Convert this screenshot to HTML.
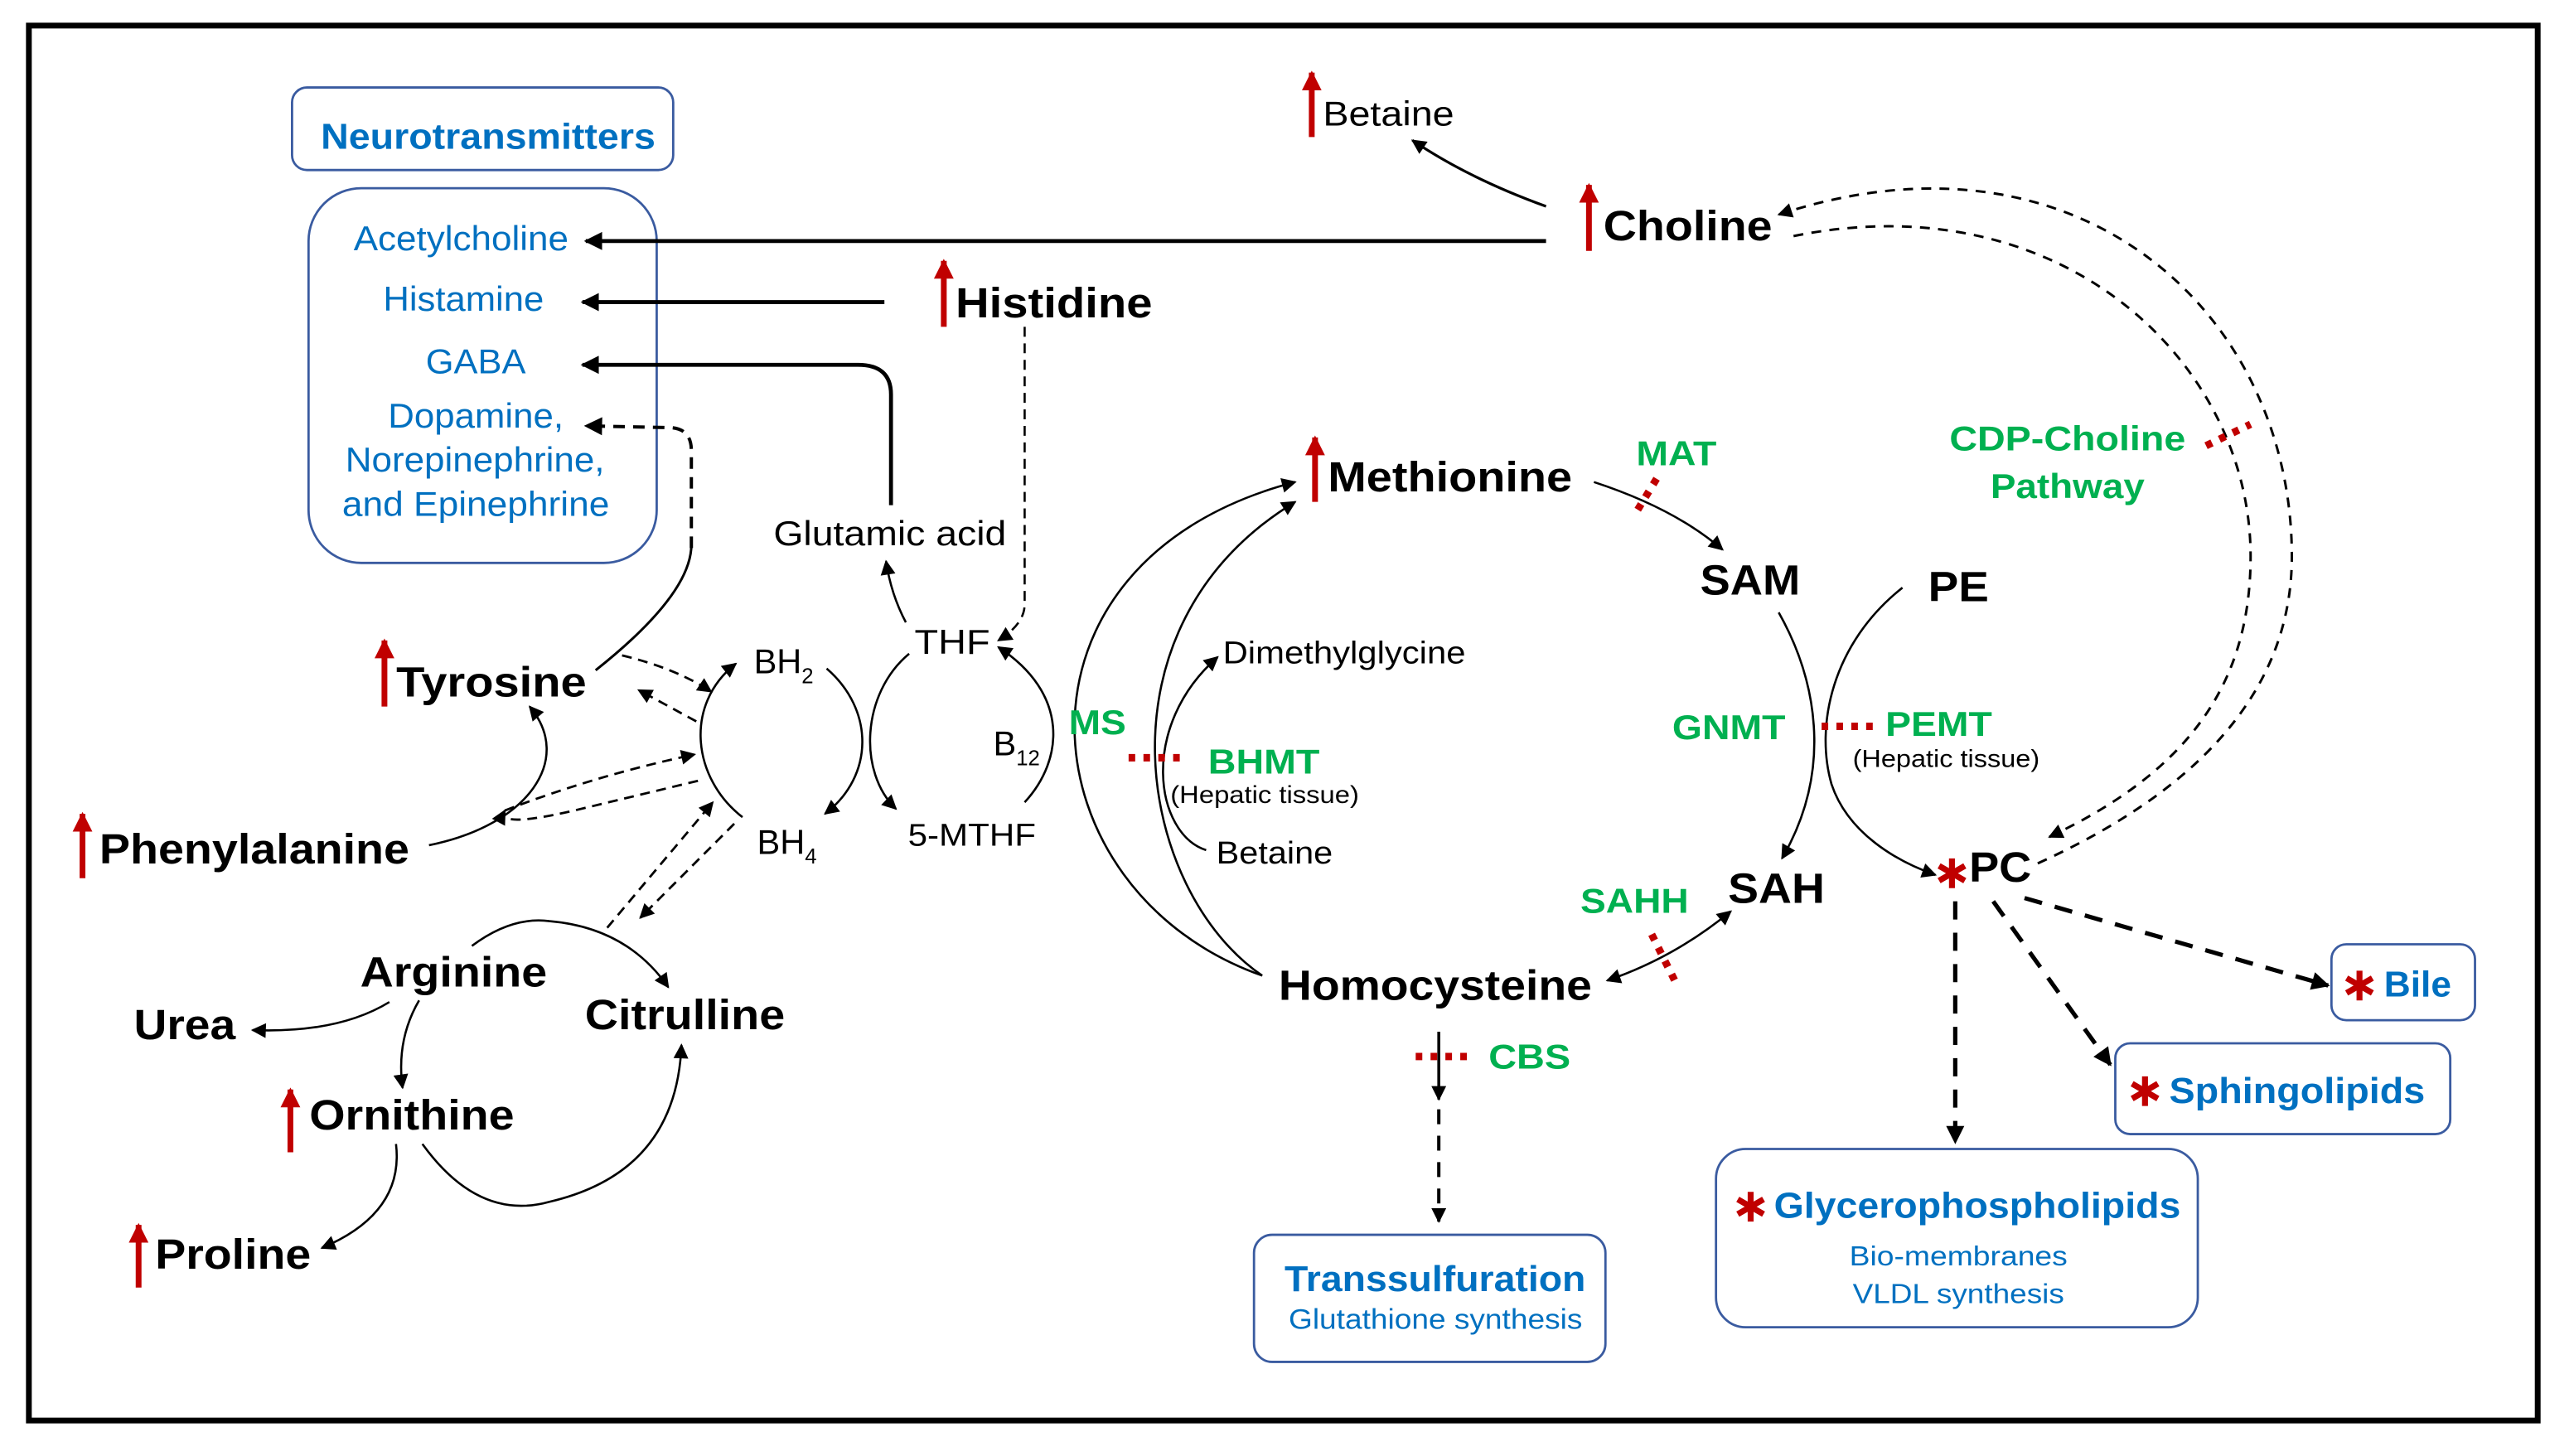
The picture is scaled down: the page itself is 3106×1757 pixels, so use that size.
<!DOCTYPE html>
<html><head><meta charset="utf-8"><style>
html,body{margin:0;padding:0;background:#fff;}
svg{display:block;}
text{font-family:"Liberation Sans",Arial,sans-serif;}
.b{font-weight:bold;fill:#000;}
.bl{fill:#0070c0;}
.g{fill:#00b050;font-weight:bold;}
.k{fill:#000;}
</style></head><body>
<svg width="3106" height="1757" viewBox="0 0 1560 882" preserveAspectRatio="none" xmlns="http://www.w3.org/2000/svg">
<defs>
<marker id="a" viewBox="0 0 10 10" refX="9" refY="5" markerWidth="12" markerHeight="11" markerUnits="userSpaceOnUse" orient="auto-start-reverse"><path d="M0,0L10,5L0,10z" fill="#000"/></marker>
<marker id="s" viewBox="0 0 10 10" refX="9" refY="5" markerWidth="10" markerHeight="9" markerUnits="userSpaceOnUse" orient="auto-start-reverse"><path d="M0,0L10,5L0,10z" fill="#000"/></marker>
<marker id="r" viewBox="0 0 10 10" refX="5" refY="1" markerWidth="12" markerHeight="12" markerUnits="userSpaceOnUse" orient="0"><path d="M0,10L5,0L10,10z" fill="#c00000"/></marker>
<g id="ast"><path d="M0,-9L0,9M-7.8,-4.5L7.8,4.5M-7.8,4.5L7.8,-4.5" stroke="#c00000" stroke-width="3.6" stroke-linecap="butt"/></g>
</defs>
<rect x="0" y="0" width="1560" height="882" fill="#fff"/>
<rect x="17.5" y="15.5" width="1520.5" height="845" fill="none" stroke="#000" stroke-width="3.5"/>

<g fill="none" stroke="#3a5ba0" stroke-width="1.4">
<rect x="177" y="53" width="231" height="50" rx="9"/>
<rect x="187" y="114" width="211" height="227" rx="32"/>
<rect x="760" y="748" width="213" height="77" rx="11"/>
<rect x="1040" y="696" width="292" height="108" rx="18"/>
<rect x="1282" y="632" width="203" height="55" rx="9"/>
<rect x="1413" y="572" width="87" height="46" rx="9"/>
</g>

<g fill="none" stroke="#000" stroke-width="2.4">
<path d="M937,146 L355,146" marker-end="url(#a)"/>
<path d="M536,183 L353,183" marker-end="url(#a)"/>
<path d="M540,306 L540,239 Q540,221 520,221 L353,221" marker-end="url(#a)"/>
</g>
<path d="M419,332 L419,273 Q419,259 405,259 L355,258" fill="none" stroke="#000" stroke-width="2" stroke-dasharray="7,5" marker-end="url(#a)"/>
<path d="M361,406 Q419,360 419,330" fill="none" stroke="#000" stroke-width="1.5"/>
<path d="M621,198 L621,366 Q621,378 605,388" fill="none" stroke="#000" stroke-width="1.3" stroke-dasharray="6,4" marker-end="url(#s)"/>
<path d="M937,125 Q890,108 856,85" fill="none" stroke="#000" stroke-width="1.6" marker-end="url(#s)"/>
<g fill="none" stroke="#000" stroke-width="1.5" stroke-dasharray="6,5">
<path d="M1087,143 C1250,110 1364,220 1364,337 C1364,420 1320,470 1242,507" marker-end="url(#s)"/>
<path d="M1235,523 C1330,480 1389,420 1389,337 C1389,190 1260,70 1078,130" marker-end="url(#s)"/>
</g>
<g fill="none" stroke="#000" stroke-width="1.3">
<path d="M549,377 Q540,360 537,340" marker-end="url(#s)"/>
<path d="M450,495 C420,472 414,427 446,402" marker-end="url(#s)"/>
<path d="M501,405 C530,430 530,470 500,493" marker-end="url(#s)"/>
<path d="M551,396 C522,420 520,468 543,490" marker-end="url(#s)"/>
<path d="M621,486 C645,460 648,420 605,392" marker-end="url(#s)"/>
<path d="M765,591 C620,540 600,340 785,292" marker-end="url(#s)"/>
<path d="M765,591 C690,540 660,380 785,304" marker-end="url(#s)"/>
<path d="M731,515 C700,505 690,440 738,398" marker-end="url(#s)"/>
<path d="M966,292 Q1015,308 1044,333" marker-end="url(#s)"/>
<path d="M1078,371 C1100,410 1112,465 1080,520" marker-end="url(#s)"/>
<path d="M1153,356 C1110,390 1100,440 1110,475 C1120,505 1150,522 1173,530" marker-end="url(#s)"/>
<path d="M974,594 Q1015,580 1049,552" marker-start="url(#s)" marker-end="url(#s)"/>
<path d="M260,512 C320,500 348,460 321,428" marker-end="url(#s)"/>
<path d="M286,573 Q310,555 333,558 Q380,562 405,598" marker-end="url(#s)"/>
<path d="M256,693 Q290,740 333,728 Q410,710 413,633" marker-end="url(#s)"/>
<path d="M254,606 Q240,630 244,659" marker-end="url(#s)"/>
<path d="M236,607 Q205,626 153,624" marker-end="url(#s)"/>
<path d="M240,693 Q245,735 195,756" marker-end="url(#s)"/>
</g>
<g fill="none" stroke="#000" stroke-width="1.4" stroke-dasharray="6,4">
<path d="M377,397 Q410,405 431,419" marker-end="url(#s)"/>
<path d="M422,437 Q400,425 387,418" marker-end="url(#s)"/>
<path d="M306,491 Q360,470 421,457" marker-end="url(#s)"/>
<path d="M423,473 L348,491 Q300,502 306,491" marker-end="url(#s)"/>
<path d="M368,562 L432,486" marker-end="url(#s)"/>
<path d="M445,499 L388,556" marker-end="url(#s)"/>
</g>
<path d="M872,625 L872,666" stroke="#000" stroke-width="1.8" marker-end="url(#s)"/>
<path d="M872,672 L872,740" stroke="#000" stroke-width="2" stroke-dasharray="9,7" marker-end="url(#s)"/>
<g fill="none" stroke="#000" stroke-width="2.6" stroke-dasharray="11,8">
<path d="M1185,546 L1185,692" marker-end="url(#a)"/>
<path d="M1208,546 L1279,645" marker-end="url(#a)"/>
<path d="M1227,544 L1411,597" marker-end="url(#a)"/>
</g>
<g stroke="#c00000" stroke-width="4.5" stroke-dasharray="4,5" fill="none">
<path d="M684,459 L716,459"/>
<path d="M1104,440 L1136,440"/>
<path d="M858,640 L890,640"/>
<path d="M1004,290 L990,313"/>
<path d="M1001,566 L1015,594"/>
<path d="M1337,270 L1364,257"/>
</g>
<g stroke="#c00000" stroke-width="3.5">
<path d="M795,44 L795,83" marker-start="url(#r)"/>
<path d="M963,112 L963,152" marker-start="url(#r)"/>
<path d="M572,158 L572,198" marker-start="url(#r)"/>
<path d="M797,265 L797,304" marker-start="url(#r)"/>
<path d="M233,388 L233,428" marker-start="url(#r)"/>
<path d="M50,493 L50,532" marker-start="url(#r)"/>
<path d="M176,660 L176,698" marker-start="url(#r)"/>
<path d="M84,742 L84,780" marker-start="url(#r)"/>
</g>

<use href="#ast" x="1183" y="529"/>
<use href="#ast" x="1430" y="597"/>
<use href="#ast" x="1300" y="661"/>
<use href="#ast" x="1061" y="731"/>

<g transform="translate(0.6,0.6) scale(0.994,0.9935)">
<text x="195" y="90" font-size="22" class="bl" font-weight="bold" textLength="204" lengthAdjust="spacingAndGlyphs">Neurotransmitters</text>
<g class="bl" font-size="21">
<text x="215" y="152" textLength="131" lengthAdjust="spacingAndGlyphs">Acetylcholine</text>
<text x="233" y="189" textLength="98" lengthAdjust="spacingAndGlyphs">Histamine</text>
<text x="259" y="227" textLength="61" lengthAdjust="spacingAndGlyphs">GABA</text>
<text x="236" y="260" textLength="107" lengthAdjust="spacingAndGlyphs">Dopamine,</text>
<text x="210" y="287" textLength="158" lengthAdjust="spacingAndGlyphs">Norepinephrine,</text>
<text x="208" y="314" textLength="163" lengthAdjust="spacingAndGlyphs">and Epinephrine</text>
</g>
<g font-size="26" class="b">
<text x="977" y="146" textLength="103" lengthAdjust="spacingAndGlyphs">Choline</text>
<text x="582" y="193" textLength="120" lengthAdjust="spacingAndGlyphs">Histidine</text>
<text x="809" y="299" textLength="149" lengthAdjust="spacingAndGlyphs">Methionine</text>
<text x="1036" y="362" textLength="61" lengthAdjust="spacingAndGlyphs">SAM</text>
<text x="1175" y="366" textLength="37" lengthAdjust="spacingAndGlyphs">PE</text>
<text x="241" y="424" textLength="116" lengthAdjust="spacingAndGlyphs">Tyrosine</text>
<text x="60" y="526" textLength="189" lengthAdjust="spacingAndGlyphs">Phenylalanine</text>
<text x="1053" y="550" textLength="59" lengthAdjust="spacingAndGlyphs">SAH</text>
<text x="1200" y="537" textLength="38" lengthAdjust="spacingAndGlyphs">PC</text>
<text x="219" y="601" textLength="114" lengthAdjust="spacingAndGlyphs">Arginine</text>
<text x="779" y="609" textLength="191" lengthAdjust="spacingAndGlyphs">Homocysteine</text>
<text x="81" y="633" textLength="62" lengthAdjust="spacingAndGlyphs">Urea</text>
<text x="356" y="627" textLength="122" lengthAdjust="spacingAndGlyphs">Citrulline</text>
<text x="188" y="688" textLength="125" lengthAdjust="spacingAndGlyphs">Ornithine</text>
<text x="94" y="773" textLength="95" lengthAdjust="spacingAndGlyphs">Proline</text>
</g>
<g class="k" font-size="21">
<text x="806" y="76" textLength="80" lengthAdjust="spacingAndGlyphs">Betaine</text>
<text x="471" y="332" textLength="142" lengthAdjust="spacingAndGlyphs">Glutamic acid</text>
<text x="557" y="398" textLength="46" lengthAdjust="spacingAndGlyphs">THF</text>
<text x="459" y="410">BH<tspan font-size="13" dy="6">2</tspan></text>
<text x="461" y="520">BH<tspan font-size="13" dy="6">4</tspan></text>
<text x="605" y="460">B<tspan font-size="13" dy="6">12</tspan></text>
</g>
<g class="k" font-size="19">
<text x="745" y="404" textLength="148" lengthAdjust="spacingAndGlyphs">Dimethylglycine</text>
<text x="553" y="515" textLength="78" lengthAdjust="spacingAndGlyphs">5-MTHF</text>
<text x="741" y="526" textLength="71" lengthAdjust="spacingAndGlyphs">Betaine</text>
</g>
<g class="k" font-size="15">
<text x="713" y="489" textLength="115" lengthAdjust="spacingAndGlyphs">(Hepatic tissue)</text>
<text x="1129" y="467" textLength="114" lengthAdjust="spacingAndGlyphs">(Hepatic tissue)</text>
</g>
<g class="g" font-size="21">
<text x="997" y="283" textLength="49" lengthAdjust="spacingAndGlyphs">MAT</text>
<text x="1188" y="274" textLength="144" lengthAdjust="spacingAndGlyphs">CDP-Choline</text>
<text x="1213" y="303" textLength="94" lengthAdjust="spacingAndGlyphs">Pathway</text>
<text x="651" y="447" textLength="35" lengthAdjust="spacingAndGlyphs">MS</text>
<text x="736" y="471" textLength="68" lengthAdjust="spacingAndGlyphs">BHMT</text>
<text x="1019" y="450" textLength="69" lengthAdjust="spacingAndGlyphs">GNMT</text>
<text x="1149" y="448" textLength="65" lengthAdjust="spacingAndGlyphs">PEMT</text>
<text x="963" y="556" textLength="66" lengthAdjust="spacingAndGlyphs">SAHH</text>
<text x="907" y="651" textLength="50" lengthAdjust="spacingAndGlyphs">CBS</text>
</g>
<g class="bl" font-weight="bold" font-size="22">
<text x="1453" y="607" textLength="41" lengthAdjust="spacingAndGlyphs">Bile</text>
<text x="1322" y="672" textLength="156" lengthAdjust="spacingAndGlyphs">Sphingolipids</text>
<text x="1081" y="742" textLength="248" lengthAdjust="spacingAndGlyphs">Glycerophospholipids</text>
</g>
<g class="bl" font-size="17">
<text x="1127" y="771" textLength="133" lengthAdjust="spacingAndGlyphs">Bio-membranes</text>
<text x="1129" y="794" textLength="129" lengthAdjust="spacingAndGlyphs">VLDL synthesis</text>
</g>
</g>
<text x="778.5" y="782" font-size="22" class="bl" font-weight="bold" textLength="182.5" lengthAdjust="spacingAndGlyphs">Transsulfuration</text>
<text x="781" y="805" font-size="17" class="bl" textLength="178" lengthAdjust="spacingAndGlyphs">Glutathione synthesis</text>
</svg>
</body></html>
